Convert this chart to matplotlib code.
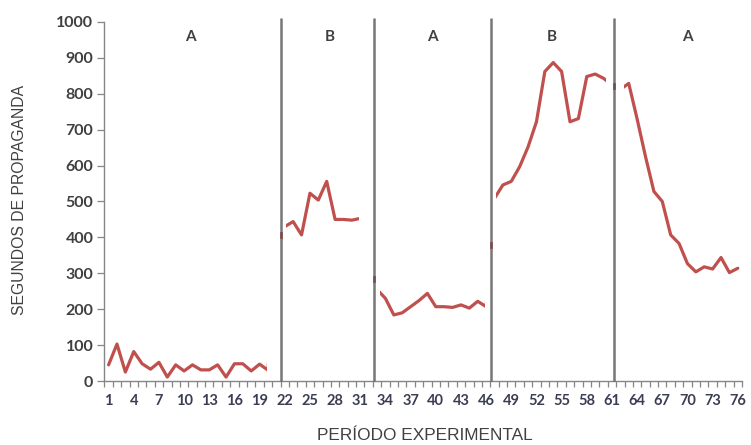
import numpy as np
import matplotlib
matplotlib.use("Agg")
import matplotlib.pyplot as plt
from matplotlib.patches import Rectangle

# seconds of propaganda per experimental period (1..76)
periodos = list(range(1, 77))
segundos = [45, 103, 25, 82, 48, 33, 52, 11, 45, 28,
            45, 31, 31, 45, 11, 48, 48, 28, 47, 30,
            380,
            430, 444, 407, 523, 504, 556, 450, 450, 448, 453,
            330, 255,
            230, 184, 190, 207, 224, 244, 207, 207, 205, 212, 203, 222, 207,
            509, 546, 556, 597, 652, 722, 862, 887, 862, 722, 731, 848, 855, 843,
            825,
            812, 829, 730, 625, 528, 500, 407, 383, 327, 304, 318, 312, 344, 302, 314]

fases = ["A", "B", "A", "B", "A"]
fase_label_x = [10.7, 27.4, 39.6, 53.8, 70.0]
cambio_x = [21.54, 32.62, 46.57, 61.23]
# parts of the series left visible by the phase-line shapes
tramos = [(0.0, 19.9), (22.2, 30.88), (33.4, 45.86), (47.17, 60.35), (62.45, 77.0)]

xticks = list(range(1, 77, 3))

fig = plt.figure(figsize=(7.51, 4.45), dpi=100)
ax = fig.add_axes([0.139, 0.1438, 0.849, 0.8068])

for a, b in tramos:
    ln, = ax.plot(periodos, segundos, color="#C0504D", lw=2.3, zorder=2,
                  solid_joinstyle="round", solid_capstyle="round")
    ln.set_clip_path(Rectangle((a, -200), b - a, 1400, transform=ax.transData))

# where the series crosses each phase line, it shows through a little
cruce = np.interp(cambio_x, periodos, segundos)
for cx, v in zip(cambio_x, cruce):
    ax.plot([cx, cx], [v - 6, v + 6], color="#C0504D", lw=2.0, zorder=3)
    ax.plot([cx, cx], [0, 1012], color="#555555", lw=1.8, alpha=0.8,
            zorder=4, clip_on=False, solid_capstyle="butt")

for lab, lx in zip(fases, fase_label_x):
    ax.text(lx, 958, lab, ha="center", va="center", fontsize=11,
            fontweight="bold", color="#404040", family="Lato")

ax.set_xlim(0.5, 76.5)
ax.set_ylim(0, 1000)

ax.set_yticks(range(0, 1001, 100))
ax.set_yticklabels([str(v) for v in range(0, 1001, 100)], fontsize=11.5,
                   fontweight="bold", color="#404040", family="Lato")
ax.set_xticks(xticks)
ax.set_xticklabels([str(v) for v in xticks], fontsize=10.5,
                   fontweight="bold", color="#3b3d52", family="Lato")
ax.set_xticks(np.arange(0.5, 77, 1), minor=True)
ax.tick_params(axis="x", which="major", length=0, pad=9)
ax.tick_params(axis="x", which="minor", length=4, color="#868686", width=0.9)
ax.tick_params(axis="y", length=5, color="#868686", width=0.9, pad=3)

for s in ["top", "right"]:
    ax.spines[s].set_visible(False)
for s in ["left", "bottom"]:
    ax.spines[s].set_color("#868686")
    ax.spines[s].set_linewidth(1.0)

fig.text(0.026, 0.55, "SEGUNDOS DE PROPAGANDA", rotation=90, ha="center",
         va="center", fontsize=11.3, color="#404040", family="Liberation Sans")
fig.text(0.566, 0.022, "PERÍODO EXPERIMENTAL", ha="center", va="center",
         fontsize=12.4, color="#404040", family="Liberation Sans")

fig.savefig("out.png", dpi=100, facecolor="white")
